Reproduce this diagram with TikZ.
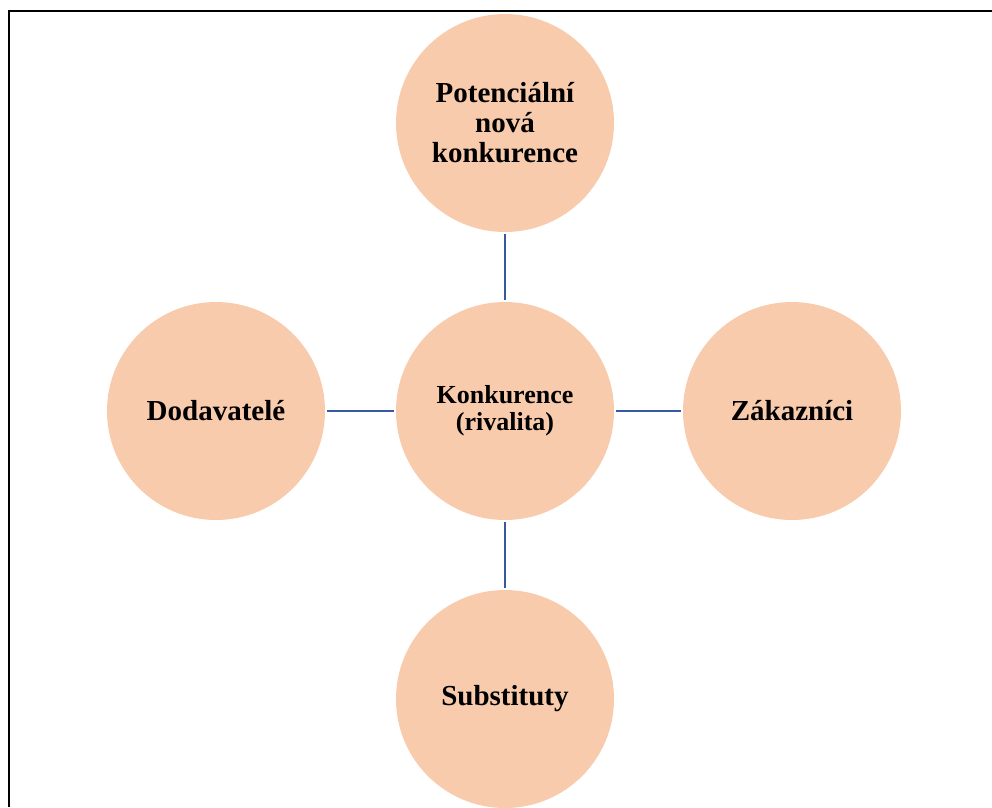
\documentclass[tikz,border=0pt]{standalone}
\usepackage{fontspec}
\setmainfont{Liberation Serif}
\definecolor{peach}{RGB}{248,203,173}
\definecolor{linkblue}{RGB}{54,89,160}
\begin{document}
\begin{tikzpicture}[x=1pt,y=1pt,
  ball/.style={circle,fill=peach,draw=none,minimum size=218pt,inner sep=0pt,align=center,
    font=\fontsize{29}{30}\selectfont\bfseries},
  link/.style={draw=linkblue,line width=2pt,shorten >=2pt,shorten <=2pt}]
\useasboundingbox (0,0) rectangle (992,-807);
\draw[line width=2pt] (8.5,-807) -- (8.5,-10.5) -- (992,-10.5);
\node[ball] (c) at (505,-411) {};
\node[font=\fontsize{26}{27}\selectfont\bfseries,align=center] (ct) at (505,-411) {Konkurence\\(rivalita)};
\node[ball] (t) at (505,-123) {Potenciální\\nová\\konkurence};
\node[ball] (l) at (216,-411) {Dodavatelé};
\node[ball] (r) at (792,-411) {Zákazníci};
\node[ball] (b) at (505,-699) {Substituty};
\draw[link] (c) -- (t);
\draw[link] (c) -- (l);
\draw[link] (c) -- (r);
\draw[link] (c) -- (b);
\end{tikzpicture}
\end{document}
